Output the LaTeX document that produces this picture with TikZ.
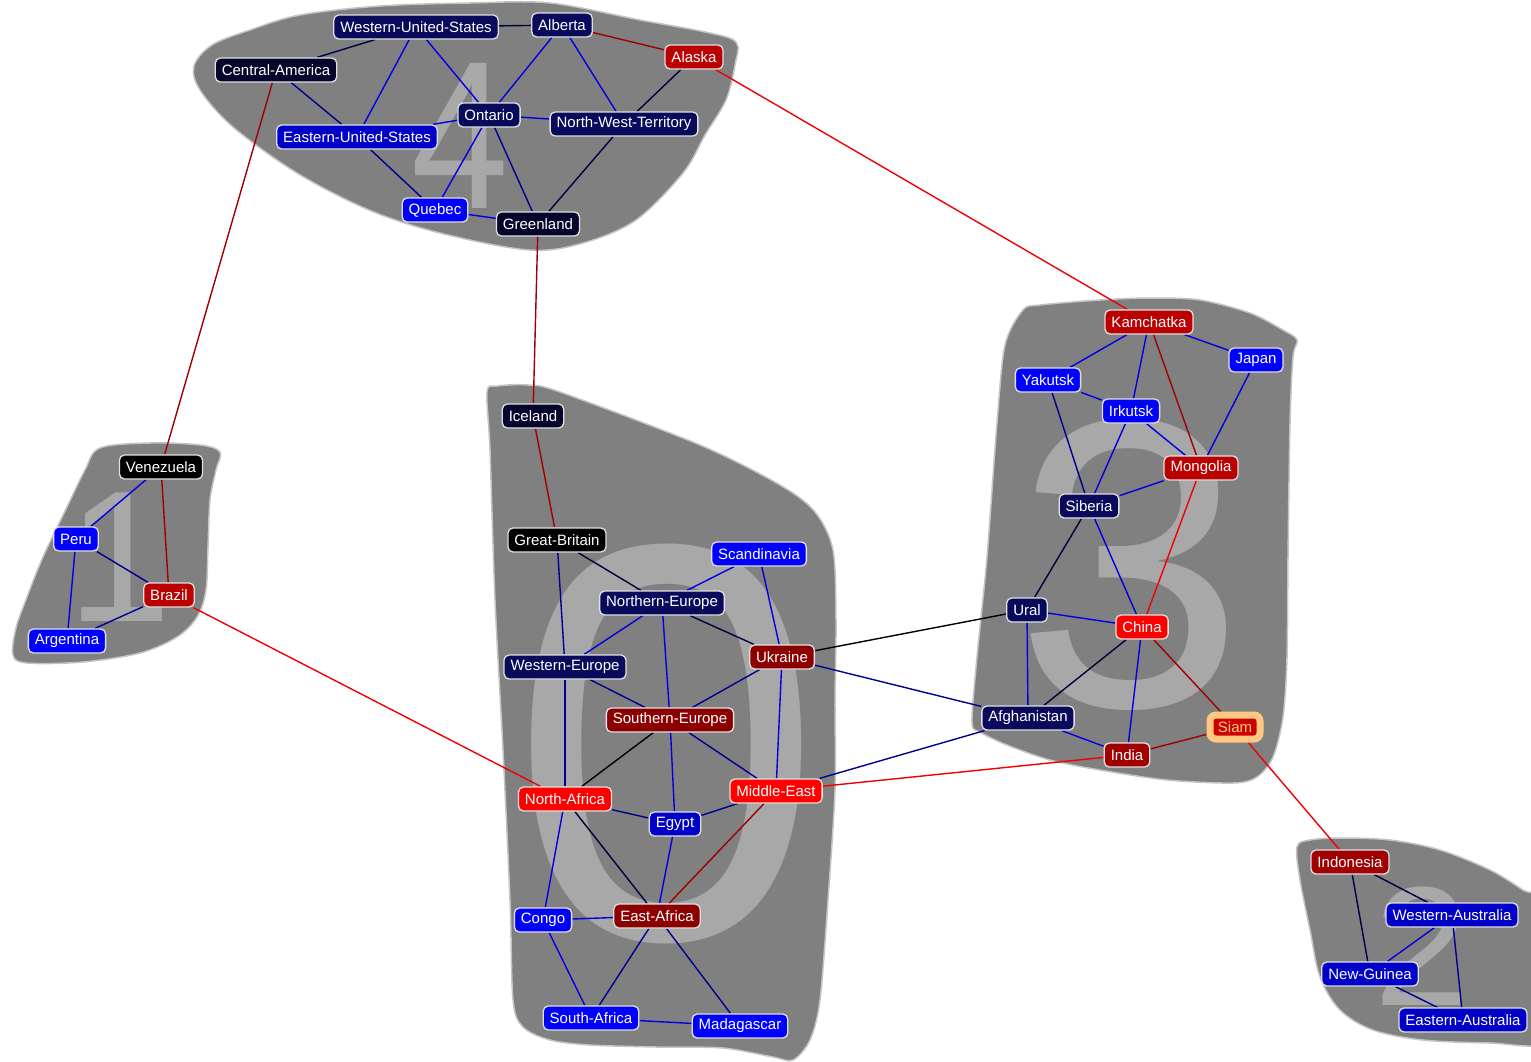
\documentclass[tikz,border=0pt]{standalone}
\usepackage{fontspec}
\setmainfont{Liberation Sans}
\pgfdeclarelayer{blobs}
\pgfdeclarelayer{links}
\pgfsetlayers{blobs,links,main}
\definecolor{blobgray}{HTML}{808080}
\definecolor{blobedge}{HTML}{C4C4C4}
\definecolor{digitgray}{HTML}{A8A8A8}
\definecolor{nb0}{HTML}{000000}
\definecolor{nb1}{HTML}{06062C}
\definecolor{nb2}{HTML}{0A0A5C}
\definecolor{nb3}{HTML}{0000C8}
\definecolor{nb4}{HTML}{0000FF}
\definecolor{nr1}{HTML}{8C0000}
\definecolor{nrI}{HTML}{A00000}
\definecolor{nr2}{HTML}{BB0000}
\definecolor{nr3}{HTML}{FF0000}
\definecolor{siamout}{HTML}{FFC880}
\definecolor{siamin}{HTML}{CC0000}
\definecolor{lb}{HTML}{0000E0}
\definecolor{ln}{HTML}{000090}
\definecolor{ld}{HTML}{000040}
\definecolor{lk}{HTML}{000000}
\definecolor{lr}{HTML}{A00000}
\definecolor{lR}{HTML}{F00000}
\tikzset{
  country/.style={rectangle, rounded corners=5pt, draw=white!88!black, line width=1.3pt,
    text=white, font=\fontsize{15}{18}\selectfont, inner xsep=6.5pt, inner ysep=3pt,
    minimum height=24pt},
  c/.style={country, fill=#1},
  blob/.style={fill=blobgray, draw=blobedge, line width=1.5pt},
  digit/.style={text=digitgray, inner sep=0pt, anchor=base, font=\fontsize{#1}{#1}\selectfont},
  lnk/.style={line width=1.4pt, draw=#1},
}
\begin{document}
\begin{tikzpicture}[x=1pt,y=-1pt]
\useasboundingbox (0,0) rectangle (1531,1061);
\clip (0,0) rectangle (1531,1061);
% ---------------- blobs ----------------
\begin{pgfonlayer}{blobs}
\path[blob] plot[smooth cycle, tension=0.55] coordinates {(194,66) (212,45) (250,30) (300,15) (380,6) (470,3) (550,3) (640,20) (705,32) (736,42) (735,65) (726,100) (705,135) (683,173) (636,220) (583,243) (529,250) (440,233) (369,210) (297,173) (233,127) (200,90)};
\path[blob] plot[smooth cycle, tension=0.55] coordinates {(100,448) (150,443) (200,445) (220,452) (216,470) (210,500) (208,547) (206,590) (197,617) (177,637) (140,653) (83,662) (27,663) (13,655) (16,628) (27,597) (43,557) (67,507) (85,470)};
\path[blob] plot[smooth cycle, tension=0.5] coordinates {(487,392) (497,386) (528,385) (560,392) (700,445) (780,485) (815,512) (833,550) (836,620) (835,700) (835,790) (828,900) (820,1000) (810,1040) (793,1060) (773,1057) (723,1048) (657,1047) (590,1045) (550,1040) (523,1027) (513,1000) (510,900) (503,750) (495,600) (490,450)};
\path[blob] plot[smooth cycle, tension=0.5] coordinates {(1023,310) (1040,305) (1100,300) (1150,298) (1200,300) (1250,313) (1283,330) (1297,340) (1293,357) (1290,423) (1288,557) (1287,657) (1283,717) (1273,757) (1257,777) (1233,783) (1167,780) (1100,770) (1050,760) (1007,745) (980,732) (972,722) (977,657) (987,557) (997,423) (1005,345)};
\path[blob] plot[smooth cycle, tension=0.55] coordinates {(1297,847) (1310,840) (1340,838) (1390,840) (1440,850) (1490,870) (1523,890) (1545,905) (1560,1000) (1545,1043) (1490,1043) (1423,1040) (1373,1030) (1340,1010) (1320,977) (1310,930) (1300,880)};
\node[digit=211, xscale=0.83, transform shape] (d4) at (460,208) {4};
\node[digit=187] (d1) at (119,621) {1};
\node[digit=565] (d0) at (667,938) {0};
\node[digit=412] (d3) at (1130,706) {3};
\node[digit=170] (d2) at (1422,1005) {2};
\end{pgfonlayer}
% ---------------- nodes ----------------
\node[c=nb2] (WUS) at (416,27) {Western-United-States};
\node[c=nb2] (ALB) at (562,25) {Alberta};
\node[c=nr2] (ALA) at (694,57) {Alaska};
\node[c=nb1] (CAM) at (276,70) {Central-America};
\node[c=nb2] (ONT) at (489,115) {Ontario};
\node[c=nb2] (NWT) at (624,124) {North-West-Territory};
\node[c=nb3] (EUS) at (357,137) {Eastern-United-States};
\node[c=nb4] (QUE) at (435,210) {Quebec};
\node[c=nb1] (GRE) at (538,224) {Greenland};
\node[c=nb0] (VEN) at (161,467) {Venezuela};
\node[c=nb4] (PER) at (76,539) {Peru};
\node[c=nr2] (BRA) at (169,595) {Brazil};
\node[c=nb4] (ARG) at (67,641) {Argentina};
\node[c=nb1] (ICE) at (533,416) {Iceland};
\node[c=nb0] (GBR) at (557,540) {Great-Britain};
\node[c=nb4] (SCA) at (759,554) {Scandinavia};
\node[c=nb2] (NEU) at (662,603) {Northern-Europe};
\node[c=nr1] (UKR) at (782,657) {Ukraine};
\node[c=nb2] (WEU) at (565,667) {Western-Europe};
\node[c=nr1] (SEU) at (670,720) {Southern-Europe};
\node[c=nr3] (NAF) at (565,799) {North-Africa};
\node[c=nr3] (MEA) at (776,791) {Middle-East};
\node[c=nb3] (EGY) at (675,824) {Egypt};
\node[c=nb4] (CON) at (543,920) {Congo};
\node[c=nr1] (EAF) at (657,916) {East-Africa};
\node[c=nb4] (SAF) at (591,1018) {South-Africa};
\node[c=nb4] (MAD) at (740,1026) {Madagascar};
\node[c=nr2] (KAM) at (1149,322) {Kamchatka};
\node[c=nb4] (JAP) at (1256,360) {Japan};
\node[c=nb4] (YAK) at (1048,380) {Yakutsk};
\node[c=nb4] (IRK) at (1131,411) {Irkutsk};
\node[c=nr2] (MON) at (1201,468) {Mongolia};
\node[c=nb2] (SIB) at (1089,506) {Siberia};
\node[c=nb2] (URA) at (1027,610) {Ural};
\node[c=nr3] (CHI) at (1142,627) {China};
\node[c=nb2] (AFG) at (1028,718) {Afghanistan};
\node[rectangle, rounded corners=6pt, fill=siamin, draw=siamout, line width=7pt,
      text=siamout, font=\fontsize{15}{18}\selectfont, inner sep=0pt,
      minimum width=50pt, minimum height=24pt] (SIA) at (1235,727) {Siam};
\node[c=nrI] (IND) at (1127,755) {India};
\node[c=nrI] (INO) at (1350,862) {Indonesia};
\node[c=nb3] (WAU) at (1452,915) {Western-Australia};
\node[c=nb3] (NGU) at (1370,974) {New-Guinea};
\node[c=nb3] (EAU) at (1463,1020) {Eastern-Australia};
% ---------------- links ----------------
\begin{pgfonlayer}{links}
\draw[lnk=ld] (WUS) -- (ALB);
\draw[lnk=ld] (WUS) -- (CAM);
\draw[lnk=lb] (WUS) -- (EUS);
\draw[lnk=lb] (WUS) -- (ONT);
\draw[lnk=lb] (ALB) -- (ONT);
\draw[lnk=lb] (ALB) -- (NWT);
\draw[lnk=lr] (ALB) -- (ALA);
\draw[lnk=ld] (ALA) -- (NWT);
\draw[lnk=lR] (ALA) -- (KAM);
\draw[lnk=ln] (CAM) -- (EUS);
\draw[lnk=lr] (CAM) -- (VEN);
\draw[lnk=lb] (ONT) -- (EUS);
\draw[lnk=lb] (ONT) -- (NWT);
\draw[lnk=lb] (ONT) -- (QUE);
\draw[lnk=ln] (ONT) -- (GRE);
\draw[lnk=ln] (EUS) -- (QUE);
\draw[lnk=lb] (QUE) -- (GRE);
\draw[lnk=ld] (NWT) -- (GRE);
\draw[lnk=lr] (GRE) -- (ICE);
\draw[lnk=lb] (VEN) -- (PER);
\draw[lnk=lr] (VEN) -- (BRA);
\draw[lnk=ln] (PER) -- (BRA);
\draw[lnk=lb] (PER) -- (ARG);
\draw[lnk=ln] (ARG) -- (BRA);
\draw[lnk=lR] (BRA) -- (NAF);
\draw[lnk=lr] (ICE) -- (GBR);
\draw[lnk=ld] (GBR) -- (NEU);
\draw[lnk=ln] (GBR) -- (WEU);
\draw[lnk=lb] (SCA) -- (NEU);
\draw[lnk=lb] (SCA) -- (UKR);
\draw[lnk=ld] (NEU) -- (UKR);
\draw[lnk=lb] (NEU) -- (WEU);
\draw[lnk=lb] (NEU) -- (SEU);
\draw[lnk=ln] (WEU) -- (SEU);
\draw[lnk=ln] (WEU) -- (NAF);
\draw[lnk=ln] (UKR) -- (SEU);
\draw[lnk=lb] (UKR) -- (MEA);
\draw[lnk=lk] (UKR) -- (URA);
\draw[lnk=ln] (UKR) -- (AFG);
\draw[lnk=lk] (SEU) -- (NAF);
\draw[lnk=lb] (SEU) -- (EGY);
\draw[lnk=ln] (SEU) -- (MEA);
\draw[lnk=ln] (NAF) -- (EGY);
\draw[lnk=lb] (NAF) -- (CON);
\draw[lnk=ld] (NAF) -- (EAF);
\draw[lnk=ln] (MEA) -- (EGY);
\draw[lnk=lr] (MEA) -- (EAF);
\draw[lnk=ln] (MEA) -- (AFG);
\draw[lnk=lR] (MEA) -- (IND);
\draw[lnk=lb] (EGY) -- (EAF);
\draw[lnk=lb] (CON) -- (EAF);
\draw[lnk=lb] (CON) -- (SAF);
\draw[lnk=ln] (EAF) -- (SAF);
\draw[lnk=ln] (EAF) -- (MAD);
\draw[lnk=lb] (SAF) -- (MAD);
\draw[lnk=lb] (KAM) -- (YAK);
\draw[lnk=lb] (KAM) -- (IRK);
\draw[lnk=lb] (KAM) -- (JAP);
\draw[lnk=lr] (KAM) -- (MON);
\draw[lnk=lb] (JAP) -- (MON);
\draw[lnk=lb] (YAK) -- (IRK);
\draw[lnk=ln] (YAK) -- (SIB);
\draw[lnk=lb] (IRK) -- (SIB);
\draw[lnk=lb] (IRK) -- (MON);
\draw[lnk=lb] (MON) -- (SIB);
\draw[lnk=lR] (MON) -- (CHI);
\draw[lnk=ld] (SIB) -- (URA);
\draw[lnk=lb] (SIB) -- (CHI);
\draw[lnk=lb] (URA) -- (CHI);
\draw[lnk=lb] (URA) -- (AFG);
\draw[lnk=ld] (CHI) -- (AFG);
\draw[lnk=lb] (CHI) -- (IND);
\draw[lnk=lr] (CHI) -- (SIA);
\draw[lnk=lb] (AFG) -- (IND);
\draw[lnk=lr] (IND) -- (SIA);
\draw[lnk=lR] (SIA) -- (INO);
\draw[lnk=ld] (INO) -- (WAU);
\draw[lnk=ld] (INO) -- (NGU);
\draw[lnk=lb] (WAU) -- (NGU);
\draw[lnk=ln] (WAU) -- (EAU);
\draw[lnk=ln] (NGU) -- (EAU);
\end{pgfonlayer}
\end{tikzpicture}
\end{document}
